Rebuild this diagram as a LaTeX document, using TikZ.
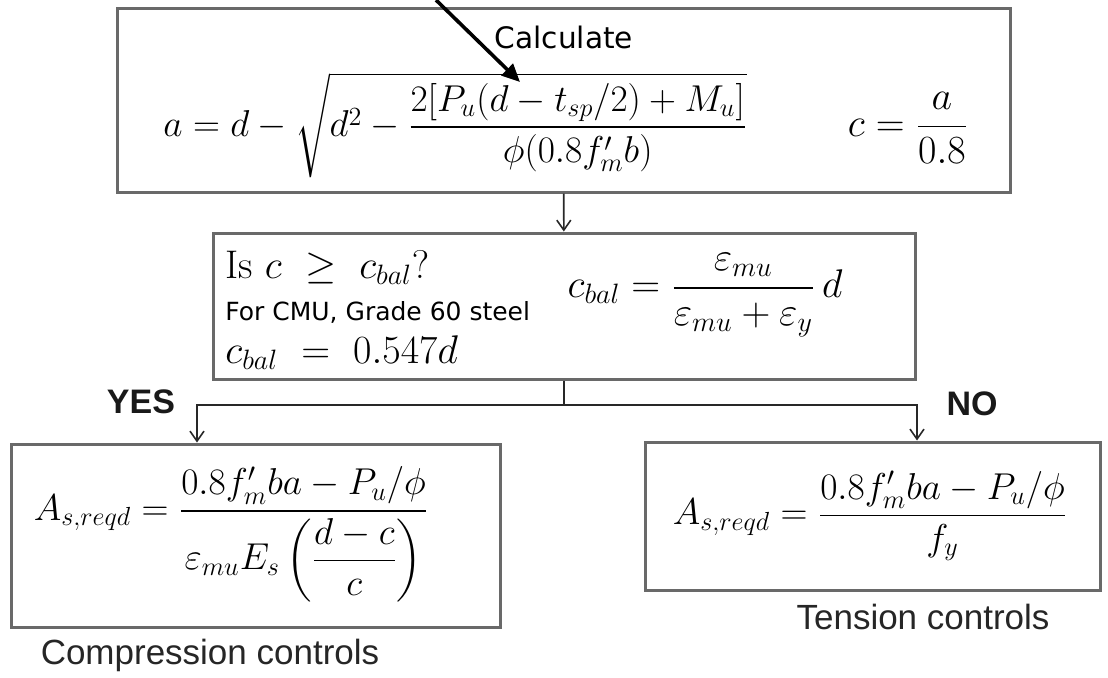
\RequirePackage{fix-cm}
\documentclass[tikz,border=0pt]{standalone}
\usepackage{amsmath}
\usepackage{fontspec}
\newfontfamily\dejavu{DejaVu Sans}
\newfontfamily\arial{Liberation Sans}
\usetikzlibrary{arrows.meta,positioning,calc}
\definecolor{BoxGray}{RGB}{105,105,105}
\definecolor{LineDark}{RGB}{40,40,40}
\tikzset{
  gbox/.style={draw=BoxGray,line width=1.5pt,inner sep=0pt},
  arr/.style={-{Straight Barb[length=5pt,width=7pt]},LineDark,line width=0.8pt},
  ptrarr/.style={-{Triangle[length=9pt,width=8pt]},black,line width=1.8pt},
  eqn/.style={inner sep=0pt,font=\fontsize{20}{24}\selectfont},
  eqnsm/.style={inner sep=0pt,font=\fontsize{18.7}{22}\selectfont},
  ans/.style={font=\arial\fontsize{17.5}{21}\selectfont,text=black!85},
  yn/.style={font=\arial\bfseries\fontsize{17}{20}\selectfont,text=black!90},
}

\begin{document}
\begin{tikzpicture}[x=0.5pt,y=-0.5pt]
  \useasboundingbox (0,0) rectangle (1108,677);

  % frames
  \node[gbox,minimum width=446.5pt,minimum height=92pt] (calcbox) at (563.5,100) {};
  \node[gbox,minimum width=351pt,minimum height=73pt] (checkbox) at (564,306) {};
  \node[gbox,minimum width=244.5pt,minimum height=91.5pt] (compbox) at (255.5,535.5) {};
  \node[gbox,minimum width=227.5pt,minimum height=74pt] (tensbox) at (872.5,516) {};

  % top box
  \node[font=\dejavu\fontsize{14.8}{18}\selectfont,inner sep=0pt] (calctitle) at (564,37) {Calculate};
  \node[eqnsm,anchor=west] (aeq) at (163,125)
    {$a = d - \sqrt{d^2 - \dfrac{2[P_u(d - t_{sp}/2) + M_u]}{\phi(0.8 f'_m b)}}$};
  \node[eqn] (ceq) at (908,128) {$c = \dfrac{a}{0.8}$};

  % check box
  \node[eqn,anchor=west] (isc) at (225,268) {$\mathrm{Is}\ c\ \geq\ c_{bal}?$};
  \node[font=\dejavu\fontsize{12.5}{15}\selectfont,inner sep=0pt,anchor=west] (cmu) at (225,312) {For CMU, Grade 60 steel};
  \node[eqn,anchor=west] (cbalval) at (225,353) {$c_{bal}\ =\ 0.547d$};
  \node[eqn] (cbaleq) at (705,295)
    {$c_{bal} = \dfrac{\varepsilon_{mu}}{\varepsilon_{mu} + \varepsilon_y}\,d$};

  % results
  \node[eqnsm] (compeq) at (231,536)
    {$A_{s,reqd} = \dfrac{0.8f'_m ba - P_u/\phi}{\varepsilon_{mu} E_s\,\biggl(\dfrac{d-c}{c}\biggr)}$};
  \node[eqnsm] (tenseq) at (870,516)
    {$A_{s,reqd} = \dfrac{0.8f'_m ba - P_u/\phi}{f_y}$};

  \node[yn] (yes) at (141,402) {YES};
  \node[yn] (no) at (972,404) {NO};
  \node[ans] (complbl) at (210,655) {Compression controls};
  \node[ans] (tenslbl) at (923,617) {Tension controls};

  % connectors
  \coordinate (split) at (564,405);
  \draw[arr] (calcbox) -- (checkbox);
  \draw[arr] (checkbox.south) -- (split) -| (197,0 |- compbox.north);
  \draw[arr] (split) -| (917,0 |- tensbox.north);

  % pointer from above
  \coordinate (ptrtail) at (436,0);
  \coordinate (ptrhead) at (520,82);
  \draw[ptrarr] (ptrtail) -- (ptrhead);
\end{tikzpicture}
\end{document}
